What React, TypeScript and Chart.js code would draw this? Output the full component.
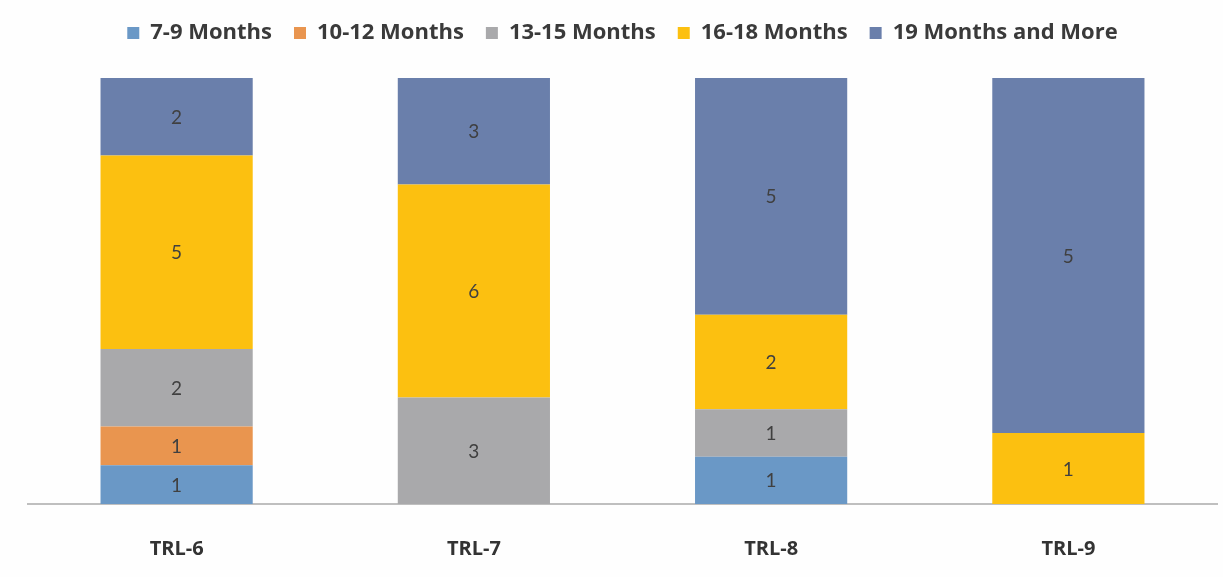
import React, { useEffect, useRef } from "react";
import { Chart, registerables } from "chart.js";

Chart.register(...registerables);

const categories = ["TRL-6", "TRL-7", "TRL-8", "TRL-9"];
const seriesNames = ["7-9 Months", "10-12 Months", "13-15 Months", "16-18 Months", "19 Months and More"];
const months7to9 = [1, 0, 1, 0];
const months10to12 = [1, 0, 0, 0];
const months13to15 = [2, 3, 1, 0];
const months16to18 = [5, 6, 2, 1];
const months19plus = [2, 3, 5, 5];
const seriesColors = ["#6a98c6", "#e9954f", "#a9a9ab", "#fcc010", "#6a7fab"];

const counts = [months7to9, months10to12, months13to15, months16to18, months19plus];

export default function App() {
  const ref = useRef<HTMLCanvasElement | null>(null);
  useEffect(() => {
    document.body.style.margin = "0";
    const totals = categories.map((_, i) => counts.reduce((s, a) => s + a[i], 0));
    const labelPlugin = {
      id: "countLabels",
      afterDatasetsDraw(chart: any) {
        const ctx = chart.ctx;
        ctx.save();
        ctx.font = "19px Lato";
        ctx.fillStyle = "#404040";
        ctx.textAlign = "center";
        ctx.textBaseline = "middle";
        chart.data.datasets.forEach((ds: any, di: number) => {
          const meta = chart.getDatasetMeta(di);
          meta.data.forEach((bar: any, i: number) => {
            const c = counts[di][i];
            if (!c) return;
            const y = (bar.y + bar.base) / 2;
            ctx.fillText(String(c), bar.x, y + 1);
          });
        });
        ctx.restore();
      },
    };
    const legendSpacer = {
      id: "legendSpacer",
      beforeInit(chart: any) {
        const orig = chart.legend.fit;
        chart.legend.fit = function () {
          orig.call(this);
          this.height += 24;
        };
      },
    };
    const chart = new Chart(ref.current!, {
      type: "bar",
      data: {
        labels: categories,
        datasets: counts.map((arr, di) => ({
          label: seriesNames[di],
          data: arr.map((v, i) => (v / totals[i]) * 100),
          backgroundColor: seriesColors[di],
          borderWidth: 0,
          categoryPercentage: 0.512,
          barPercentage: 1,
        })),
      },
      options: {
        animation: false,
        responsive: false,
        maintainAspectRatio: false,
        layout: { padding: { left: 28, right: 6, top: 0, bottom: 10 } },
        plugins: {
          legend: {
            position: "top",
            labels: {
              boxWidth: 12,
              boxHeight: 12,
              padding: 22,
              color: "#3a3a3a",
              font: { family: "Open Sans", size: 22, weight: "bold" },
            },
          },
          tooltip: { enabled: false },
        },
        scales: {
          x: {
            stacked: true,
            grid: { display: false },
            border: { display: true, color: "#bfbfbf", width: 2 },
            ticks: {
              color: "#333333",
              padding: 25,
              font: { family: "Open Sans", size: 20, weight: "bold" },
            },
            afterFit(scale: any) {
              scale.height -= 19;
            },
          },
          y: {
            stacked: true,
            display: false,
            min: 0,
            max: 100,
          },
        },
      },
      plugins: [labelPlugin, legendSpacer],
    });
    return () => chart.destroy();
  }, []);
  return (
    <div style={{ width: 1223, height: 577, background: "#fefefe" }}>
      <canvas ref={ref} width={1223} height={577} style={{ display: "block" }} />
    </div>
  );
}
